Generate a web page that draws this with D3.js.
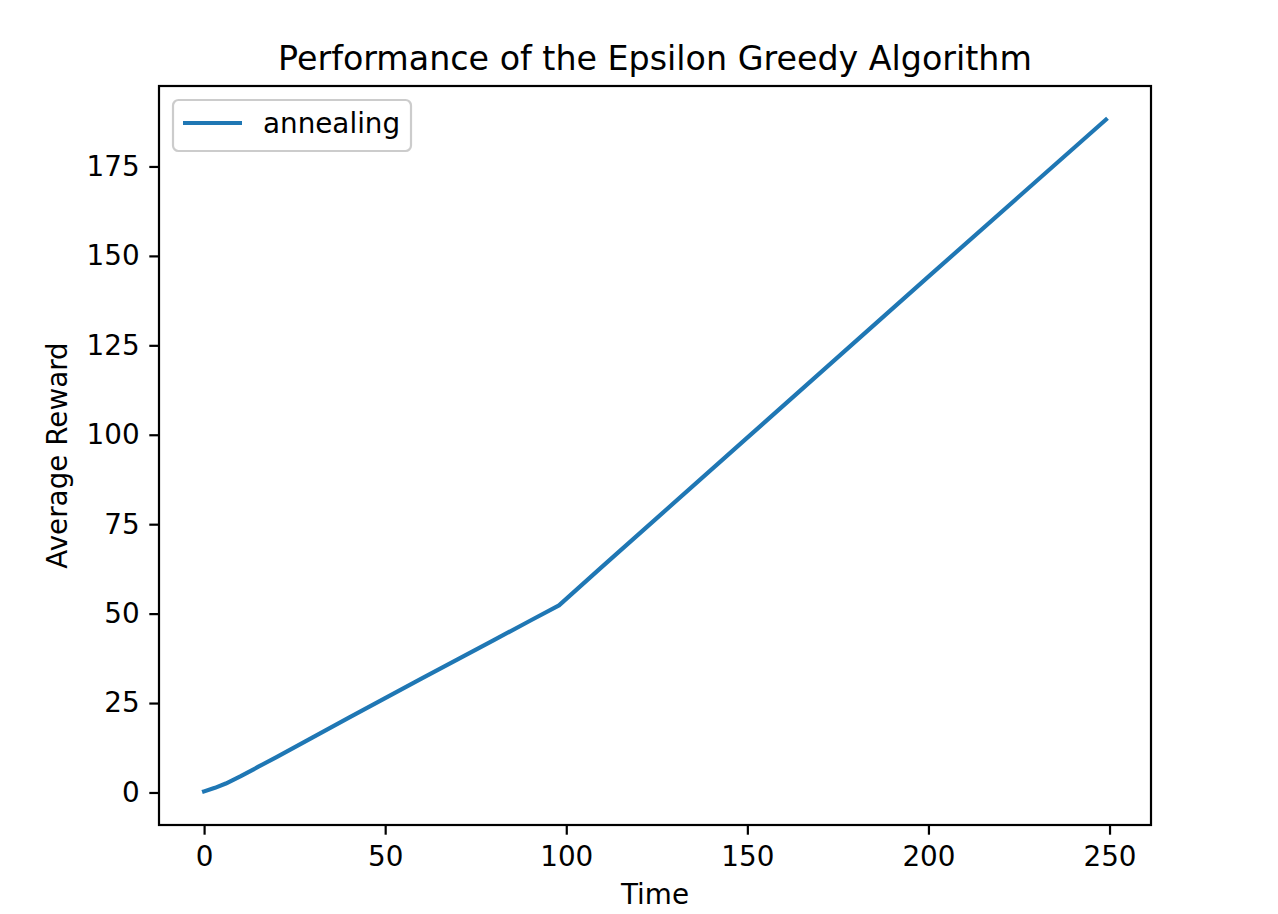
<!DOCTYPE html>
<html>
<head>
<meta charset="utf-8">
<script src="https://cdn.jsdelivr.net/npm/d3@7"></script>
<style>
  body { margin: 0; background: #fff; }
  svg { display: block; font-family: "DejaVu Sans", sans-serif; }
</style>
</head>
<body>
<svg id="chart" width="1278" height="914"></svg>
<script>
// data
const time = [0, 3, 6, 10, 15, 20, 30, 40, 50, 60, 70, 80, 90, 98, 110, 125, 150, 175, 200, 225, 249];
const reward = [0.3, 1.3, 2.5, 4.5, 7.2, 9.9, 15.4, 20.9, 26.4, 31.8, 37.2, 42.6, 48.0, 52.3, 63.2, 76.7, 99.2, 121.7, 144.2, 166.6, 188.1];
const seriesName = "annealing";
const xTicks = [0, 50, 100, 150, 200, 250];
const yTicks = [0, 25, 50, 75, 100, 125, 150, 175];

const svg = d3.select("#chart");
const plotL = 159, plotR = 1151, plotT = 86, plotB = 825;
const fs = 27.8;      // 10pt at 200 dpi
const tickLen = 9.7, tickPad = 9.7;

// matplotlib-like 5% margins
function padded(ext) {
    const r = ext[1] - ext[0];
    return [ext[0] - 0.05 * r, ext[1] + 0.05 * r];
}
const x = d3.scaleLinear().domain(padded(d3.extent(time))).range([plotL, plotR]);
const y = d3.scaleLinear().domain(padded(d3.extent(reward))).range([plotB, plotT]);

const points = time.map((t, i) => [t, reward[i]]);

// line
svg.append("path")
    .datum(points)
    .attr("fill", "none")
    .attr("stroke", "#1f77b4")
    .attr("stroke-width", 4.2)
    .attr("stroke-linejoin", "round")
    .attr("stroke-linecap", "square")
    .attr("d", d3.line().x(d => x(d[0])).y(d => y(d[1])));

// axes
const xAxis = svg.append("g")
    .attr("transform", `translate(0,${plotB})`)
    .call(d3.axisBottom(x).tickValues(xTicks).tickSize(tickLen).tickPadding(tickPad).tickSizeOuter(0));
const yAxis = svg.append("g")
    .attr("transform", `translate(${plotL},0)`)
    .call(d3.axisLeft(y).tickValues(yTicks).tickSize(tickLen).tickPadding(tickPad).tickSizeOuter(0));

[xAxis, yAxis].forEach(a => {
    a.select(".domain").remove();
    a.selectAll(".tick line").attr("stroke", "#000").attr("stroke-width", 2.2);
    a.selectAll(".tick text").attr("fill", "#000").style("font-size", fs + "px")
        .style("font-family", "DejaVu Sans");
});
xAxis.selectAll(".tick text").attr("dy", "0.76em");

// frame
svg.append("rect")
    .attr("x", plotL).attr("y", plotT)
    .attr("width", plotR - plotL).attr("height", plotB - plotT)
    .attr("fill", "none").attr("stroke", "#000").attr("stroke-width", 2.2);

// title and labels
svg.append("text")
    .attr("x", (plotL + plotR) / 2).attr("y", 69.5)
    .attr("text-anchor", "middle")
    .style("font-size", "33.3px")
    .text("Performance of the Epsilon Greedy Algorithm");

svg.append("text")
    .attr("x", (plotL + plotR) / 2).attr("y", 904)
    .attr("text-anchor", "middle")
    .style("font-size", fs + "px")
    .text("Time");

svg.append("text")
    .attr("transform", `translate(67,${(plotT + plotB) / 2}) rotate(-90)`)
    .attr("text-anchor", "middle")
    .style("font-size", fs + "px")
    .text("Average Reward");

// legend
const lg = svg.append("g").attr("transform", `translate(${plotL + 14},${plotT + 14})`);
lg.append("rect")
    .attr("width", 238).attr("height", 51)
    .attr("rx", 5.5)
    .attr("fill", "#fff").attr("fill-opacity", 0.8)
    .attr("stroke", "#cccccc").attr("stroke-width", 2.2);
lg.append("line")
    .attr("x1", 10).attr("x2", 69).attr("y1", 23).attr("y2", 23)
    .attr("stroke", "#1f77b4").attr("stroke-width", 4.2);
lg.append("text")
    .attr("x", 90).attr("y", 33)
    .style("font-size", fs + "px")
    .text(seriesName);
</script>
</body>
</html>
